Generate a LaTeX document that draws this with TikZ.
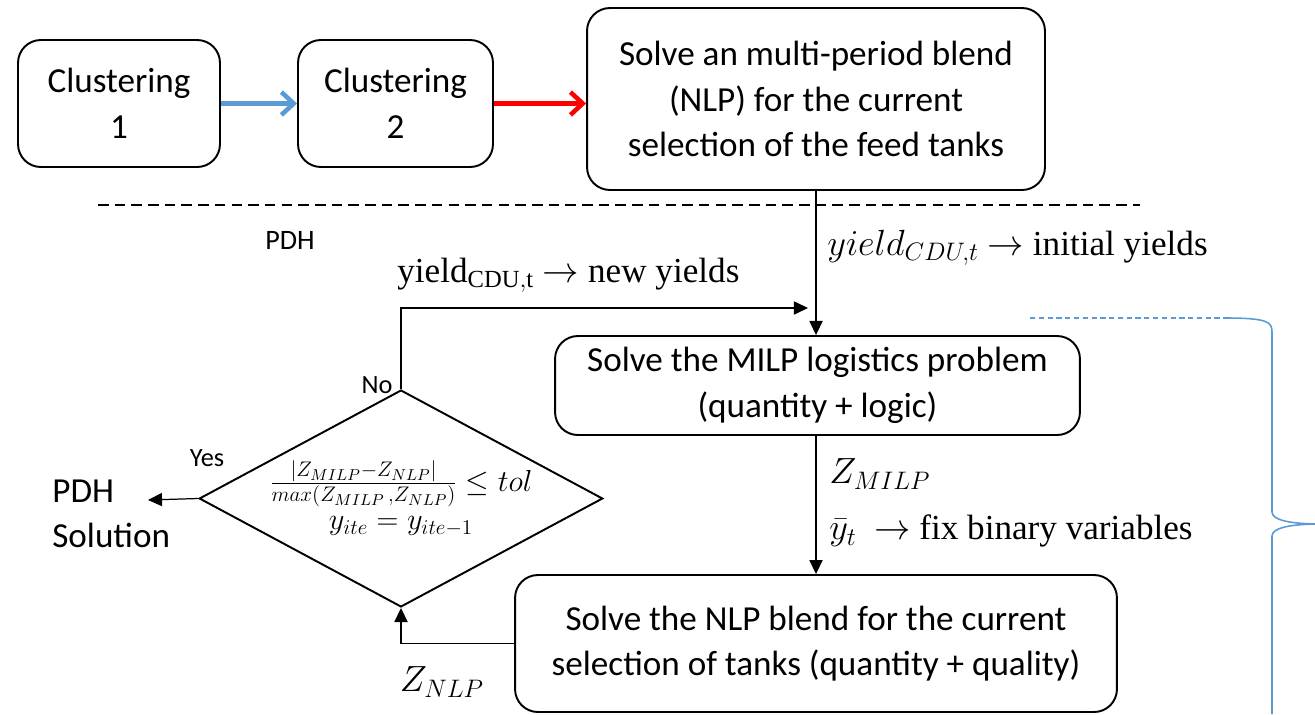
\documentclass[tikz,border=0pt]{standalone}
\usepackage{amsmath, amssymb}
\usepackage{fontspec}
\setmainfont{Liberation Serif}
\setsansfont{Carlito}
\usepackage{tikz}
\usetikzlibrary{shapes.geometric, arrows.meta}
\definecolor{clusterblue}{RGB}{91, 155, 213}
\definecolor{braceblue}{RGB}{91, 155, 213}

\tikzset{
	stagebox/.style={draw, rounded corners=13pt, line width=1.1pt, align=center, inner sep=0pt,
		font=\sffamily\fontsize{20}{26}\selectfont},
	testbox/.style={draw, diamond, aspect=1.86, line width=1.1pt, inner sep=0pt, align=center,
		minimum width=7.56cm, minimum height=4.06cm, font=\fontsize{18}{24}\selectfont},
	flow/.style={line width=0.7pt, -{Triangle[length=8pt, width=7.5pt]}},
	fatflow/.style={line width=2.6pt, -{Straight Barb[length=7pt, width=13pt, line width=2.6pt]}},
	lbl/.style={inner sep=0pt, anchor=west, font=\fontsize{20}{24}\selectfont},
	smalllbl/.style={inner sep=0pt, font=\sffamily\fontsize{15}{17}\selectfont}
}

\begin{document}
\begin{tikzpicture}[x=0.02cm, y=-0.02cm]
		\useasboundingbox (0,0) rectangle (1315,714);

		% upper stages
		\node[stagebox, minimum width=4.04cm, minimum height=2.54cm] (clus1) at (119,103.5) {Clustering\\1};
		\node[stagebox, minimum width=3.9cm, minimum height=2.54cm] (clus2) at (395.5,103.5) {Clustering\\2};
		\node[stagebox, minimum width=9.16cm, minimum height=3.64cm] (blend) at (816,99)
			{Solve an multi-period blend\\(NLP) for the current\\selection of the feed tanks};
		\draw[fatflow, clusterblue] (clus1.east) -- (clus2.west);
		\draw[fatflow, red] (clus2.east) -- (clus2.east -| blend.west);

		\draw[line width=1pt, dash pattern=on 6pt off 3.5pt] (98,205) coordinate (dashl) -- (1140,205) coordinate (dashr);
		\node[smalllbl, font=\sffamily\fontsize{16}{18}\selectfont] (pdhtag) at (290,240) {PDH};

		% PDH loop
		\node[stagebox, minimum width=10.5cm, minimum height=1.98cm] (milp) at (817.5,385.5)
			{Solve the MILP logistics problem\\(quantity + logic)};
		\node[stagebox, minimum width=12.04cm, minimum height=2.74cm] (nlp) at (816,643.5)
			{Solve the NLP blend for the current\\selection of tanks (quantity + quality)};
		\node[testbox] (check) at (401,498.5)
			{$\frac{|Z_{MILP}-Z_{NLP}|}{max(Z_{MILP}\,,Z_{NLP})}\le tol$\\[-2pt]$y_{ite}=y_{ite-1}$};
		\node[align=left, anchor=west, inner sep=0pt, font=\sffamily\fontsize{20}{26}\selectfont] (sol) at (52,514) {PDH\\Solution};
		\coordinate (back) at (808,308);

		\draw[flow] (blend.south) -- (blend.south |- milp.north);
		\draw[flow] (milp.south -| nlp.north) -- (nlp.north);
		\draw[flow] (nlp.west) -| (check.south);
		\draw[flow] (check.north) |- (back);
		\draw[flow] (check.west) -- (148,500);

		\node[lbl] (initlbl) at (827,248) {$yield_{CDU,t}$ $\rightarrow$ initial yields};
		\node[lbl] (newlbl) at (397,275) {yield$_{\mathrm{CDU,t}}$ $\rightarrow$ new yields};
		\node[lbl] (zmilp) at (829,474) {$Z_{MILP}$};
		\node[lbl] (fixlbl) at (829,531) {$\bar{y}_t$ \ $\rightarrow$ fix binary variables};
		\node[lbl, anchor=center] (znlp) at (442,682) {$Z_{NLP}$};
		\node[smalllbl] (nolbl) at (377,385) {No};
		\node[smalllbl] (yeslbl) at (207,458) {Yes};

		% blue brace, cut at the right edge
		\draw[braceblue, line width=0.8pt, dash pattern=on 3pt off 2pt] (1030,318) -- (1225,318);
		\draw[braceblue, line width=0.9pt] (1225,318) .. controls (1268,318) and (1272,322) .. (1272,332)
			-- (1272,512) .. controls (1272,520) and (1290,524) .. (1320,524);
		\draw[braceblue, line width=0.9pt] (1320,524) .. controls (1290,524) and (1272,528) .. (1272,536)
			-- (1272,714);
	\end{tikzpicture}
\end{document}
